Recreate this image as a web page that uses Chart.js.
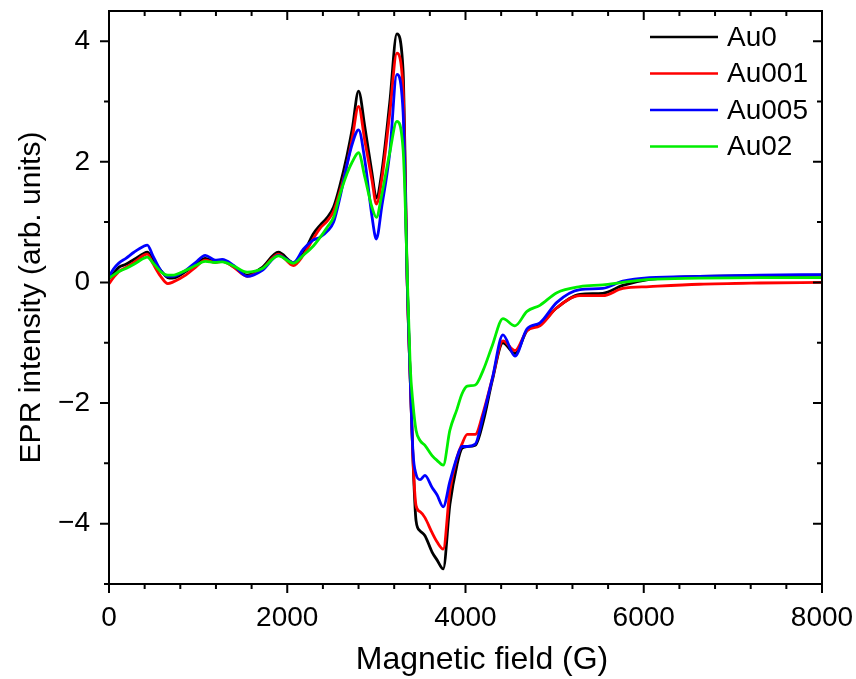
<!DOCTYPE html>
<html>
<head>
<meta charset="utf-8">
<script src="https://cdn.jsdelivr.net/npm/chart.js@4.4.1/dist/chart.umd.min.js"></script>
<style>
html, body { margin: 0; padding: 0; background: #fff; }
canvas { display: block; }
</style>
</head>
<body>
<canvas id="epr" width="856" height="679"></canvas>
<script>
// magnetic field (G)
const field = [0, 50, 110, 190, 280, 390, 430, 490, 580, 660, 710, 860, 970, 1080, 1190, 1270, 1400, 1550, 1720, 1900,
    2070, 2180, 2290, 2370, 2450, 2520, 2590, 2670, 2730, 2800, 2870, 2950, 3000, 3060, 3150, 3230, 3300, 3320, 3345, 3380,
    3410, 3445, 3490, 3545, 3625, 3680, 3750, 3825, 3905, 3960, 4020, 4110, 4200, 4300, 4420, 4555, 4690, 4835, 5025, 5285,
    5540, 5765, 6065, 6625, 7300, 8000];

const au0 = [0.06, 0.15, 0.25, 0.3, 0.38, 0.48, 0.5, 0.38, 0.2, 0.08, 0.07, 0.18, 0.3, 0.4, 0.35, 0.36, 0.26, 0.12, 0.25, 0.5,
    0.33, 0.48, 0.8, 0.95, 1.08, 1.25, 1.6, 2.1, 2.55, 3.17, 2.58, 1.82, 1.4, 1.82, 2.98, 4.12, 3.5, 2.2, 0.1, -1.6,
    -2.9, -3.95, -4.12, -4.2, -4.47, -4.6, -4.75, -3.68, -3.02, -2.75, -2.72, -2.7, -2.3, -1.63, -1.0, -1.18, -0.8, -0.7, -0.42, -0.2,
    -0.18, -0.05, 0.05, 0.1, 0.11, 0.12];

const au001 = [-0.02, 0.08, 0.18, 0.25, 0.33, 0.45, 0.47, 0.32, 0.1, -0.02, 0.0, 0.12, 0.25, 0.37, 0.33, 0.35, 0.25, 0.1, 0.22, 0.47,
    0.28, 0.45, 0.72, 0.9, 1.02, 1.18, 1.5, 1.95, 2.4, 2.92, 2.35, 1.7, 1.3, 1.7, 2.8, 3.8, 3.2, 2.0, 0.05, -1.6,
    -2.9, -3.7, -3.8, -3.9, -4.15, -4.3, -4.42, -3.45, -2.9, -2.68, -2.52, -2.52, -2.15, -1.6, -0.97, -1.13, -0.8, -0.72, -0.42, -0.22,
    -0.22, -0.1, -0.07, -0.03, -0.01, 0.0];

const au005 = [0.1, 0.22, 0.32, 0.4, 0.5, 0.6, 0.62, 0.45, 0.2, 0.1, 0.1, 0.2, 0.33, 0.45, 0.37, 0.38, 0.28, 0.1, 0.2, 0.45,
    0.33, 0.55, 0.7, 0.75, 0.85, 1.0, 1.4, 1.95, 2.3, 2.53, 2.03, 1.1, 0.72, 1.25, 2.15, 3.45, 2.82, 1.8, 0.05, -1.6,
    -2.8, -3.18, -3.27, -3.2, -3.4, -3.52, -3.72, -3.3, -2.9, -2.72, -2.72, -2.68, -2.2, -1.6, -0.87, -1.22, -0.77, -0.67, -0.33, -0.12,
    -0.1, 0.02, 0.08, 0.1, 0.12, 0.13];

const au02 = [0.07, 0.12, 0.18, 0.23, 0.3, 0.4, 0.42, 0.33, 0.18, 0.12, 0.12, 0.2, 0.28, 0.35, 0.33, 0.34, 0.27, 0.17, 0.23, 0.44,
    0.32, 0.45, 0.6, 0.75, 0.92, 1.08, 1.45, 1.8, 2.0, 2.15, 1.75, 1.25, 1.08, 1.45, 2.15, 2.67, 2.2, 1.5, 0.2, -1.4,
    -2.0, -2.45, -2.62, -2.7, -2.87, -2.95, -3.03, -2.45, -2.1, -1.85, -1.72, -1.7, -1.45, -1.05, -0.6, -0.72, -0.48, -0.38, -0.17, -0.07,
    -0.04, 0.0, 0.05, 0.07, 0.08, 0.08];

const seriesNames = ["Au0", "Au001", "Au005", "Au02"];
const seriesColors = ["#000000", "#ff0000", "#0000ff", "#00ee00"];
const seriesValues = [au0, au001, au005, au02];

// tick positions (majors get labels)
const xTickValues = [0, 400, 800, 1200, 1600, 2000, 2400, 2800, 3200, 3600, 4000, 4400, 4800, 5200, 5600, 6000, 6400, 6800, 7200, 7600, 8000];
const yTickValues = [-5, -4, -3, -2, -1, 0, 1, 2, 3, 4];

const FONT = "'Liberation Sans', Arial, sans-serif";

// box round the plot with ticks on all four sides (outer on bottom/left, inner on top/right)
const framePlugin = {
    id: "frame",
    afterDatasetsDraw(chart) {
        const { ctx, chartArea: a, scales } = chart;
        ctx.save();
        ctx.strokeStyle = "#000";
        ctx.lineWidth = 2;
        ctx.strokeRect(a.left, a.top, a.right - a.left, a.bottom - a.top);
        ctx.beginPath();
        scales.x.ticks.forEach(t => {
            const px = scales.x.getPixelForValue(t.value);
            const len = t.value % 2000 === 0 ? 9 : 5;
            ctx.moveTo(px, a.bottom); ctx.lineTo(px, a.bottom + len);
            ctx.moveTo(px, a.top); ctx.lineTo(px, a.top + len);
        });
        scales.y.ticks.forEach(t => {
            const py = scales.y.getPixelForValue(t.value);
            const len = t.value % 2 === 0 ? 9 : 5;
            ctx.moveTo(a.left, py); ctx.lineTo(a.left - len, py);
            ctx.moveTo(a.right, py); ctx.lineTo(a.right - len, py);
        });
        ctx.stroke();
        ctx.restore();
    }
};

// legend inside the plot (top right) and the x title, which sits a bit right of centre
const legendPlugin = {
    id: "innerLegend",
    afterDraw(chart) {
        const { ctx } = chart;
        ctx.save();
        ctx.font = "28px " + FONT;
        ctx.textBaseline = "middle";
        ctx.fillStyle = "#000";
        chart.data.datasets.forEach((ds, i) => {
            const y = 37 + i * 36.5;
            ctx.strokeStyle = ds.borderColor;
            ctx.lineWidth = 2.5;
            ctx.beginPath();
            ctx.moveTo(650, y);
            ctx.lineTo(718, y);
            ctx.stroke();
            ctx.fillText(ds.label, 727, y + 1);
        });
        ctx.font = "32px " + FONT;
        ctx.textAlign = "center";
        ctx.fillText(xTitle, 482, 660);
        ctx.restore();
    }
};

const xTitle = "Magnetic field (G)";

const datasets = seriesNames.map((name, i) => ({
    label: name,
    data: field.map((f, j) => ({ x: f, y: seriesValues[i][j] })),
    borderColor: seriesColors[i],
    borderWidth: 2.8,
    pointRadius: 0,
    cubicInterpolationMode: "monotone",
    order: seriesNames.length - i
}));

new Chart(document.getElementById("epr"), {
    type: "line",
    data: { datasets },
    options: {
        responsive: false,
        animation: false,
        layout: { padding: { left: 0, right: 34, top: 11, bottom: 0 } },
        plugins: { legend: { display: false }, tooltip: { enabled: false } },
        scales: {
            x: {
                type: "linear",
                min: 0,
                max: 8000,
                grid: { display: false },
                border: { display: false },
                ticks: {
                    autoSkip: false,
                    maxRotation: 0,
                    padding: 9,
                    color: "#000",
                    font: { family: FONT, size: 28 },
                    callback: v => (v % 2000 === 0 ? String(v) : "")
                },
                title: { display: false },
                afterBuildTicks: s => { s.ticks = xTickValues.map(v => ({ value: v })); },
                afterFit: s => { s.height = 95; s.paddingLeft = 0; s.paddingRight = 0; }
            },
            y: {
                min: -5,
                max: 4.5,
                grid: { display: false },
                border: { display: false },
                ticks: {
                    autoSkip: false,
                    padding: 11,
                    color: "#000",
                    font: { family: FONT, size: 28 },
                    callback: v => (v % 2 === 0 ? String(v).replace("-", "\u2212") : "")
                },
                title: {
                    display: true,
                    text: "EPR intensity (arb. units)",
                    color: "#000",
                    font: { family: FONT, size: 30 },
                    padding: { top: 14, bottom: 0 }
                },
                afterBuildTicks: s => { s.ticks = yTickValues.map(v => ({ value: v })); },
                afterFit: s => { s.width = 109; s.paddingTop = 0; s.paddingBottom = 0; }
            }
        }
    },
    plugins: [framePlugin, legendPlugin]
});
</script>
</body>
</html>
